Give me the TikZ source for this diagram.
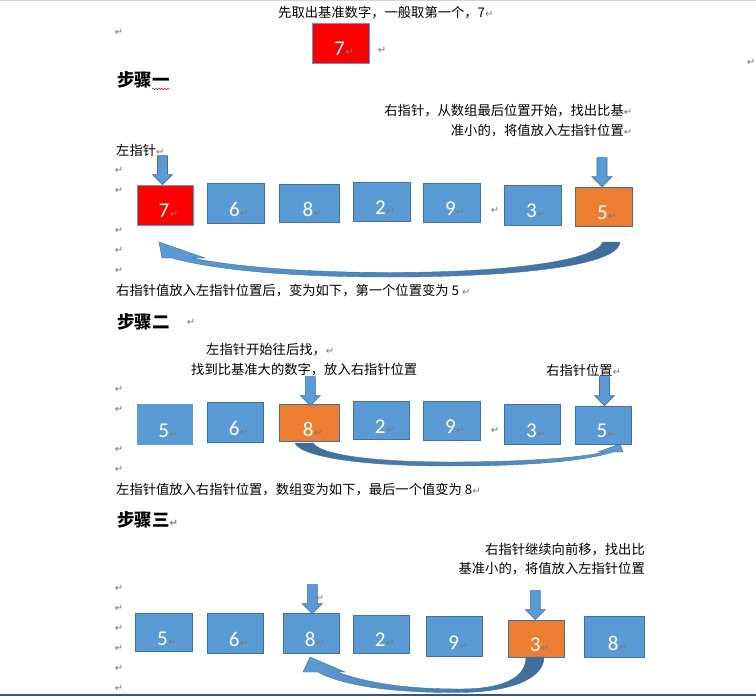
\documentclass[tikz,border=0pt]{standalone}
\usepackage{fontspec}
\setmainfont{Noto Sans CJK SC}
\newfontfamily\cjk{Noto Sans CJK SC}
\newfontfamily\digitfont{Carlito}
\newfontfamily\dejavu{DejaVu Sans}
\usetikzlibrary{calc,decorations.pathmorphing}
\definecolor{boxblue}{HTML}{5B9BD5}
\definecolor{boxedge}{HTML}{41719C}
\definecolor{boxorange}{HTML}{ED7D31}
\definecolor{pmgray}{HTML}{7A7A7A}
\definecolor{darkband}{HTML}{3E6C9A}
\definecolor{framegray}{HTML}{D4D4D4}
\definecolor{frameblue}{HTML}{2F5597}
\newcommand\parmark{{\dejavu\fontsize{10}{10}\selectfont\textcolor{pmgray}{↵}}}
% name, style, x1, y1, x2, y2, digit
\newcommand\abox[7]{%
  \node[#2, minimum width={#5-#3}, minimum height={#6-#4}] (#1) at ({(#3+#5)/2},{(#4+#6)/2}) {};
  \node[num] (#1n) at ($(#1.center)+(-1,6)$) {#7\rlap{\hspace{0.6pt}\parmark}};
}
\newcommand\downarr[1]{%
  \draw[darr] #1 -- ++(-10,-10) -- ++(5,0) -- ++(0,-19) -- ++(10,0) -- ++(0,19) -- ++(5,0) -- cycle;}
\begin{document}
\begin{tikzpicture}[x=1pt,y=-1pt,
  bluebox/.style={rectangle, fill=boxblue, draw=boxedge, line width=0.75pt, inner sep=0},
  blueplain/.style={rectangle, fill=boxblue, inner sep=0},
  redbox/.style={rectangle, fill=red, draw=boxblue, line width=0.75pt, inner sep=0},
  orangebox/.style={rectangle, fill=boxorange, draw=boxedge, line width=0.75pt, inner sep=0},
  num/.style={font=\digitfont\fontsize{21}{21}\selectfont, text=white, inner sep=0},
  pm/.style={inner sep=0},
  txt/.style={font=\cjk\fontsize{13.3}{14}\selectfont, inner sep=0, text=black},
  headtxt/.style={font=\cjk\bfseries\fontsize{17.5}{18}\selectfont, inner sep=0, text=black},
  darr/.style={fill=boxblue, draw=boxedge, line width=0.6pt, line join=miter},
  band/.style={draw=boxedge, line width=0.4pt, line join=miter}]
\useasboundingbox (0,0) rectangle (756,696);
\fill[white] (0,0) rectangle (756,696);
\draw[framegray, line width=1pt] (0,0.5) -- (756,0.5);
\draw[frameblue, line width=1.5pt] (0,695.2) -- (756,695.2);

% ---------- top ----------
\node[txt, anchor=west] (t0) at (278,13) {先取出基准数字，一般取第一个，7\parmark};
\abox{b0}{redbox}{312}{23}{369}{63}{7}
\node[pm] (pmb0) at (382,50) {\parmark};
\node[headtxt, anchor=west] (h1) at (117,80) {步骤一};
\draw[red, line width=0.5pt, decorate, decoration={snake, amplitude=0.8pt, segment length=3pt}] (152,89) -- (170,89);
\node[pm] (pmr) at (751,62) {\parmark};

% ---------- step 1 ----------
\node[txt, anchor=east] (t1) at (624,111) {右指针，从数组最后位置开始，找出比基\rlap{\parmark}};
\node[txt, anchor=east] (t2) at (624,131) {准小的，将值放入左指针位置\rlap{\parmark}};
\node[txt, anchor=west] (t3) at (116,150) {左指针\parmark};

\abox{b11}{redbox}{137}{185}{193}{225}{7}
\abox{b12}{bluebox}{207}{183}{264}{223}{6}
\abox{b13}{bluebox}{279}{184}{339}{222}{8}
\abox{b14}{bluebox}{353}{182}{410}{221}{2}
\abox{b15}{bluebox}{423}{183}{480}{222}{9}
\abox{b16}{bluebox}{504}{185}{561}{225}{3}
\abox{b17}{orangebox}{575}{187}{632}{226}{5}
\node[pm] (pm1) at (495,210) {\parmark};

\downarr{($(b11.north)+(-2.5,0)$)}
\downarr{($(b17.north)+(-1.5,0)$)}

\shadedraw[band, left color=boxblue, right color=darkband]
  (172,258) .. controls (215,270) and (290,277) .. (390,277)
  .. controls (500,277) and (618,268) .. (620,242)
  -- (603,242)
  .. controls (595,262) and (500,272.5) .. (390,272.5)
  .. controls (300,272.5) and (230,266) .. (192,258)
  -- (205,258) -- (159,242) -- (162,258) -- cycle;

\node[txt, anchor=west] (t4) at (116,291) {右指针值放入左指针位置后，变为如下，第一个位置变为 5 \parmark};

% ---------- step 2 ----------
\node[headtxt, anchor=west] (h2) at (117,322) {步骤二};
\node[pm] (pmh2) at (191,322) {\parmark};
\node[txt, anchor=west] (t5) at (206,350) {左指针开始往后找，\parmark};
\node[txt, anchor=west] (t6) at (191,370) {找到比基准大的数字，放入右指针位置};
\node[txt, anchor=west] (t7) at (546,370) {右指针位置\parmark};

\abox{b21}{blueplain}{136.5}{404}{193}{444.7}{5}
\abox{b22}{bluebox}{207}{402}{263.6}{442.7}{6}
\abox{b23}{orangebox}{279.3}{404.3}{339.3}{441.7}{8}
\abox{b24}{bluebox}{353.3}{401.7}{409.3}{439.3}{2}
\abox{b25}{bluebox}{423}{401.7}{480}{440}{9}
\abox{b26}{bluebox}{504}{404.3}{560.7}{444.3}{3}
\abox{b27}{bluebox}{575}{406}{631}{444.3}{5}
\node[pm] (pm2) at (495,430) {\parmark};

\downarr{($(b23.north)+(1,1.7)$)}
\downarr{($(b27.north)+(1.5,0)$)}

\shadedraw[band, left color=darkband, right color=boxblue]
  (295,443) -- (313,443)
  .. controls (322,456) and (380,462) .. (450,462)
  .. controls (530,462) and (585,457) .. (604,452)
  -- (598,452) -- (620,444) -- (623,452) -- (613,452)
  .. controls (585,461) and (530,466) .. (450,466)
  .. controls (350,466) and (300,455) .. (295,443) -- cycle;

\node[txt, anchor=west] (t8) at (116,490) {左指针值放入右指针位置，数组变为如下，最后一个值变为 8\parmark};

% ---------- step 3 ----------
\node[headtxt, anchor=west] (h3) at (117,520) {步骤三\parmark};
\node[txt, anchor=east] (t9) at (645,550) {右指针继续向前移，找出比};
\node[txt, anchor=east] (t10) at (645,569) {基准小的，将值放入左指针位置};

\abox{b31}{bluebox}{135}{613}{192}{651.7}{5}
\abox{b32}{bluebox}{207}{613}{263.6}{653}{6}
\abox{b33}{bluebox}{283.3}{613.3}{339.3}{653.3}{8}
\abox{b34}{bluebox}{353.3}{615}{409.3}{653.3}{2}
\abox{b35}{bluebox}{426.7}{616}{482.7}{656.7}{9}
\abox{b36}{orangebox}{508.3}{620}{564.3}{657.3}{3}
\abox{b37}{bluebox}{584}{616.7}{644.6}{657.3}{8}

\downarr{($(b33.north)+(1,0.7)$)}
\node[pm] (pm3) at (320,598) {\parmark};
\downarr{($(b36.north)+(-1,0)$)}

\shadedraw[band, left color=boxblue, right color=darkband]
  (526,657) -- (544,657)
  .. controls (544,679) and (510,692) .. (460,692.5)
  .. controls (400,693) and (345,687) .. (318,672)
  -- (303,672) -- (310,657) -- (345,672) -- (337,672)
  .. controls (370,684) and (410,689) .. (460,689)
  .. controls (505,689) and (526,677) .. (526,657) -- cycle;

% ---------- margin paragraph marks ----------
\foreach \yy [count=\i] in {32,170,190,230,250,270,389,409,449,469,588,608,628,648,668,688}
  \node[pm] (pml\i) at (119,\yy) {\parmark};
\end{tikzpicture}
\end{document}
